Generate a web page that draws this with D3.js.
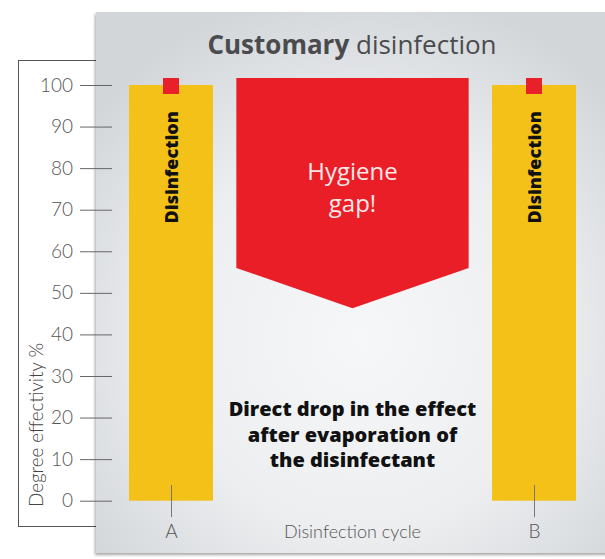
<!DOCTYPE html>
<html><head><meta charset="utf-8">
<script src="https://cdn.jsdelivr.net/npm/d3@7"></script>
<style>html,body{margin:0;padding:0;background:#fff;}svg{display:block;}</style>
</head><body>
<script>
// ---- data ----
const categories = ["A", "B"];
const cyclePos = [0, 1];            // position of each disinfection cycle
const effectivity = [100, 100];      // bar values (%)
const yTicks = [0, 10, 20, 30, 40, 50, 60, 70, 80, 90, 100];
// hygiene gap arrow (cycle position, effectivity %)
const gapX = [0.18, 0.82];
const gapTop = 101.7, gapShoulder = 56, gapTip = 46.3;
const titleBold = "Customary", titleRest = " disinfection";
const barLabel = "Disinfection";
const gapLabel = ["Hygiene", "gap!"];
const noteLines = ["Direct drop in the effect", "after evaporation of", "the disinfectant"];
const yLabel = "Degree effectivity %";
const xLabel = "Disinfection cycle";

const W = 605, H = 559;
const svg = d3.select("body").append("svg").attr("width", W).attr("height", H);
const defs = svg.append("defs");
const rg = defs.append("radialGradient").attr("id", "bg").attr("cx", "50%").attr("cy", "60%").attr("r", "65%");
rg.append("stop").attr("offset", "0%").attr("stop-color", "#f6f7f8");
rg.append("stop").attr("offset", "55%").attr("stop-color", "#eceef0");
rg.append("stop").attr("offset", "100%").attr("stop-color", "#d3d6d9");
const f = defs.append("filter").attr("id", "sh").attr("x", "-10%").attr("y", "-10%").attr("width", "130%").attr("height", "130%");
f.append("feDropShadow").attr("dx", -1).attr("dy", 2).attr("stdDeviation", 1.5).attr("flood-color", "#000").attr("flood-opacity", 0.35);

const y = d3.scaleLinear().domain([0, 100]).range([500.7, 85]);
const x = d3.scaleLinear().domain([0, 1]).range([171, 534]);
const barW = 84;

// white framed box
svg.append("rect").attr("x", 18.5).attr("y", 60.5).attr("width", 100).attr("height", 466)
  .attr("fill", "#fff").attr("stroke", "#555").attr("stroke-width", 1);

// gray panel
svg.append("rect").attr("x", 96).attr("y", 12).attr("width", 530).attr("height", 541)
  .attr("fill", "url(#bg)").attr("filter", "url(#sh)");

// title
const t = svg.append("text").attr("x", 352).attr("y", 54).attr("text-anchor", "middle")
  .attr("font-family", "Open Sans").attr("font-size", 26).attr("fill", "#4a4b4d");
t.append("tspan").attr("font-weight", 700).text(titleBold);
t.append("tspan").attr("font-weight", 400).text(titleRest);

// bars
svg.selectAll("rect.bar").data(categories).join("rect").attr("class", "bar")
  .attr("x", (d, i) => x(cyclePos[i]) - barW / 2).attr("width", barW)
  .attr("y", (d, i) => y(effectivity[i])).attr("height", (d, i) => y(0) - y(effectivity[i]))
  .attr("fill", "#f3c118");

// red markers
svg.selectAll("rect.mk").data(categories).join("rect").attr("class", "mk")
  .attr("x", (d, i) => x(cyclePos[i]) - 8).attr("width", 16)
  .attr("y", (d, i) => y(effectivity[i]) - 7).attr("height", 16)
  .attr("fill", "#e8202a");

// bar labels
svg.selectAll("text.bl").data(categories).join("text").attr("class", "bl")
  .attr("transform", (d, i) => `translate(${x(cyclePos[i])},${y(80.2)}) rotate(-90)`)
  .attr("text-anchor", "middle").attr("dominant-baseline", "central")
  .attr("font-family", "Open Sans").attr("font-weight", 800).attr("font-size", 18)
  .attr("fill", "#111").text(barLabel);

// hygiene gap arrow
const pts = [[gapX[0], gapTop], [gapX[1], gapTop], [gapX[1], gapShoulder], [(gapX[0] + gapX[1]) / 2, gapTip], [gapX[0], gapShoulder]];
svg.append("path").attr("d", d3.line().x(d => x(d[0])).y(d => y(d[1]))(pts) + "Z").attr("fill", "#e91e27");
svg.selectAll("text.gap").data(gapLabel).join("text").attr("class", "gap")
  .attr("x", x(0.5)).attr("y", (d, i) => 180 + i * 32).attr("text-anchor", "middle")
  .attr("font-family", "Open Sans").attr("font-size", 24).attr("fill", "#fde8e8").text(d => d);

// note
svg.selectAll("text.note").data(noteLines).join("text").attr("class", "note")
  .attr("x", x(0.5)).attr("y", (d, i) => 416 + i * 25.5).attr("text-anchor", "middle")
  .attr("font-family", "Open Sans").attr("font-weight", 800).attr("font-size", 20)
  .attr("fill", "#111").text(d => d);

// y axis
const ya = svg.append("g").attr("transform", "translate(112,0)")
  .call(d3.axisLeft(y).tickValues(yTicks).tickSize(32).tickPadding(7));
ya.select(".domain").remove();
ya.selectAll("line").attr("stroke", "#666");
ya.selectAll("text").attr("font-family", "Lato").attr("font-weight", 300).attr("font-size", 19).attr("fill", "#555");

// x axis
const xa = svg.append("g").attr("transform", "translate(0,485)")
  .call(d3.axisBottom(x).tickValues(cyclePos).tickFormat((d, i) => categories[i]).tickSize(32).tickPadding(8));
xa.select(".domain").remove();
xa.selectAll("line").attr("stroke", "#777");
xa.selectAll("text").attr("font-family", "Lato").attr("font-weight", 300).attr("font-size", 19).attr("fill", "#555");

// axis titles
svg.append("text").attr("transform", "translate(43,507) rotate(-90)").attr("text-anchor", "start")
  .attr("font-family", "Lato").attr("font-weight", 300).attr("font-size", 18.8).attr("fill", "#444").text(yLabel);
svg.append("text").attr("x", x(0.5)).attr("y", 538).attr("text-anchor", "middle")
  .attr("font-family", "Lato").attr("font-weight", 300).attr("font-size", 18).attr("fill", "#555").text(xLabel);
</script>
</body></html>
